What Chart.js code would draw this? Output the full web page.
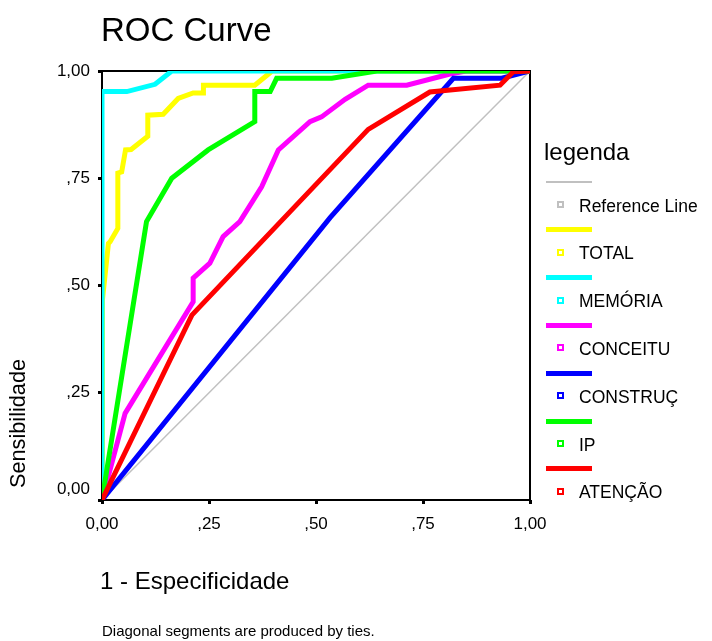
<!DOCTYPE html>
<html>
<head>
<meta charset="utf-8">
<script src="https://cdn.jsdelivr.net/npm/chart.js@4.4.1/dist/chart.umd.min.js"></script>
<style>
	html, body { margin: 0; padding: 0; background: #fff; }
	#wrap { position: relative; width: 712px; height: 641px; font-family: 'Liberation Sans', Arial, sans-serif; color: #000; }
	#wrap canvas { position: absolute; left: 0; top: 0; }
	.txt { position: absolute; line-height: 1; white-space: nowrap; }
	#title { left: 101px; top: 13px; font-size: 33px; }
	#xtitle { left: 100px; top: 569px; font-size: 24px; }
	#ytitle { left: 7px; top: 488px; font-size: 21.7px; transform-origin: 0 0; transform: rotate(-90deg); }
	#note { left: 102px; top: 623px; font-size: 15px; }
	#legtitle { left: 544px; top: 140px; font-size: 24px; }
	.sw { position: absolute; left: 546px; width: 46px; }
	.sq { position: absolute; left: 557px; width: 7px; height: 7px; box-sizing: border-box; border: 2px solid; background: #fff; }
	.lab { position: absolute; left: 579px; font-size: 17.5px; line-height: 1; white-space: nowrap; }
</style>
</head>
<body>
<div id="wrap">
	<canvas id="roc" width="712" height="641"></canvas>
	<div class="txt" id="title">ROC Curve</div>
	<div class="txt" id="ytitle">Sensibilidade</div>
	<div class="txt" id="xtitle">1 - Especificidade</div>
	<div class="txt" id="note">Diagonal segments are produced by ties.</div>
	<div class="txt" id="legtitle">legenda</div>
	<div id="legend"></div>
</div>
<script>
const xTickLabels = ['0,00', ',25', ',50', ',75', '1,00'];
const yTickLabels = ['0,00', ',25', ',50', ',75', '1,00'];

const seriesNames = ['Reference Line', 'TOTAL', 'MEMÓRIA', 'CONCEITU', 'CONSTRUÇ', 'IP', 'ATENÇÃO'];
const seriesColors = ['#c0c0c0', '#ffff00', '#00ffff', '#ff00ff', '#0000ff', '#00ff00', '#ff0000'];

// 1 - specificity (x) and sensitivity (y) per curve
const refX = [0, 1];
const refY = [0, 1];
const totalX = [0, 0.001, 0.015, 0.019, 0.037, 0.037, 0.046, 0.055, 0.068, 0.107, 0.107, 0.143, 0.178, 0.213, 0.237, 0.237, 0.357, 0.389, 0.397, 1];
const totalY = [0, 0.466, 0.598, 0.602, 0.633, 0.762, 0.765, 0.816, 0.817, 0.848, 0.897, 0.899, 0.936, 0.949, 0.949, 0.967, 0.967, 0.993, 1, 1];
const memoriaX = [0, 0, 0.058, 0.124, 0.163, 1];
const memoriaY = [0, 0.952, 0.952, 0.969, 1, 1];
const conceituX = [0, 0.054, 0.213, 0.213, 0.252, 0.283, 0.322, 0.373, 0.412, 0.486, 0.513, 0.568, 0.622, 0.712, 0.813, 0.85, 1];
const conceituY = [0, 0.202, 0.462, 0.517, 0.552, 0.614, 0.649, 0.73, 0.816, 0.882, 0.893, 0.934, 0.967, 0.967, 0.993, 1, 1];
const construcX = [0, 0.533, 0.821, 0.934, 1];
const construcY = [0, 0.658, 0.983, 0.983, 1];
const ipX = [0, 0.104, 0.163, 0.248, 0.357, 0.357, 0.393, 0.408, 0.537, 0.642, 1];
const ipY = [0, 0.649, 0.75, 0.816, 0.882, 0.952, 0.952, 0.983, 0.983, 1, 1];
const atencaoX = [0, 0.21, 0.622, 0.766, 0.93, 0.961, 1];
const atencaoY = [0, 0.431, 0.864, 0.951, 0.967, 0.998, 1];

const seriesX = [refX, totalX, memoriaX, conceituX, construcX, ipX, atencaoX];
const seriesY = [refY, totalY, memoriaY, conceituY, construcY, ipY, atencaoY];

const fontFamily = "'Liberation Sans', Arial, sans-serif";

const datasets = seriesNames.map((name, i) => ({
	label: name,
	data: seriesX[i].map((x, j) => ({ x: x, y: seriesY[i][j] })),
	borderColor: seriesColors[i],
	backgroundColor: seriesColors[i],
	borderWidth: i === 0 ? 1.5 : 5,
	pointRadius: 0,
	showLine: true,
	fill: false,
	order: seriesNames.length - i // later series drawn on top
}));

// box around the plot area, drawn under the curves
const frame = {
	id: 'frame',
	beforeDatasetsDraw(chart) {
		const a = chart.chartArea;
		const ctx = chart.ctx;
		ctx.save();
		ctx.strokeStyle = '#000';
		ctx.lineWidth = 2;
		ctx.strokeRect(a.left, a.top, a.right - a.left, a.bottom - a.top);
		ctx.restore();
	}
};

const tickFont = { family: fontFamily, size: 17 };
const gridOpts = { drawOnChartArea: false, drawTicks: true, tickLength: 4, tickWidth: 3, tickColor: '#000' };

new Chart(document.getElementById('roc').getContext('2d'), {
	type: 'scatter',
	data: { datasets: datasets },
	options: {
		responsive: false,
		animation: false,
		layout: { padding: { left: 0, top: 71, right: 182, bottom: 0 } },
		plugins: { legend: { display: false }, tooltip: { enabled: false } },
		scales: {
			x: {
				type: 'linear', min: 0, max: 1,
				afterFit: s => { s.height = 141; },
				ticks: { stepSize: 0.25, autoSkip: false, maxRotation: 0, padding: 10, color: '#000', font: tickFont,
					callback: (v, i) => xTickLabels[i] },
				grid: gridOpts,
				border: { display: false }
			},
			y: {
				type: 'linear', min: 0, max: 1,
				afterFit: s => { s.width = 102; },
				ticks: { stepSize: 0.25, autoSkip: false, padding: 8, color: '#000', font: tickFont,
					callback: (v, i) => i === 0 ? [yTickLabels[i], ''] : yTickLabels[i] },
				grid: gridOpts,
				border: { display: false }
			}
		}
	},
	plugins: [frame]
});

// legend: line sample, small square, name
const legendEl = document.getElementById('legend');
seriesNames.forEach((name, i) => {
	const base = 182 + i * 47.8;
	const h = i === 0 ? 1.5 : 5;
	const sw = document.createElement('div');
	sw.className = 'sw';
	sw.style.top = (base - h / 2) + 'px';
	sw.style.height = h + 'px';
	sw.style.background = seriesColors[i];
	legendEl.appendChild(sw);

	const sq = document.createElement('div');
	sq.className = 'sq';
	sq.style.top = (base + 19) + 'px';
	sq.style.borderColor = seriesColors[i];
	legendEl.appendChild(sq);

	const lab = document.createElement('div');
	lab.className = 'lab';
	lab.style.top = (base + 24 - 8.5) + 'px';
	lab.textContent = name;
	legendEl.appendChild(lab);
});
</script>
</body>
</html>
